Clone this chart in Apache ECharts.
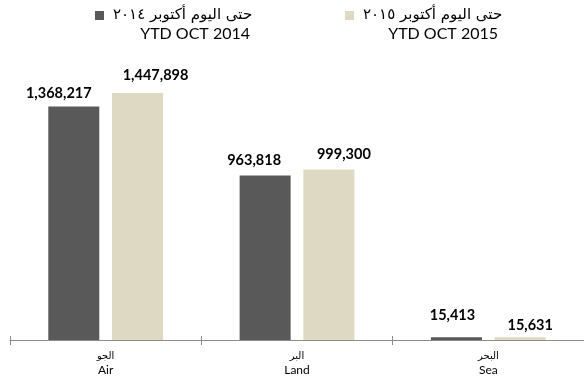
<!DOCTYPE html>
<html>
<head>
<meta charset="utf-8">
<script src="https://cdn.jsdelivr.net/npm/echarts@6/dist/echarts.min.js"></script>
<style>
  html, body { margin: 0; padding: 0; background: #fff; }
  #chart { width: 584px; height: 378px; }
</style>
</head>
<body>
<div id="chart"></div>
<script>
// Mode-of-arrival categories (Arabic / English)
const categoriesAr = ['الجو', 'البر', 'البحر'];
const categoriesEn = ['Air', 'Land', 'Sea'];

// Series names
const seriesAr = ['حتى اليوم أكتوبر ٢٠١٤', 'حتى اليوم أكتوبر ٢٠١٥'];
const seriesEn = ['YTD OCT 2014', 'YTD OCT 2015'];

// Year-to-date values
const ytd2014 = [1368217, 963818, 15413];
const ytd2015 = [1447898, 999300, 15631];

// Hand-placed nudges for the value labels [dx, dy]
const labelNudge2014 = [[-15, -6], [-11, -8], [-4, -15]];
const labelNudge2015 = [[18, -10], [15, -8], [10, -5]];

const LATIN = 'Lato, "DejaVu Sans", sans-serif';
const ARABIC = '"DejaVu Sans", sans-serif';
const COLORS = ['#595959', '#ddd9c3'];

function fmt(v) {
  return v.toString().replace(/\B(?=(\d{3})+(?!\d))/g, ',');
}

function barData(values, nudges) {
  return values.map((v, i) => ({
    value: v,
    label: { offset: nudges[i] }
  }));
}

const chart = echarts.init(document.getElementById('chart'), null, { renderer: 'canvas' });

const legendBase = {
  orient: 'horizontal',
  icon: 'rect',
  itemWidth: 9,
  itemHeight: 9,
  padding: 0,
  top: 8,
  textStyle: { fontFamily: ARABIC, fontSize: 15, color: '#000', padding: [0, 0, 0, 4] },
  selectedMode: false
};

const titleText = { fontFamily: LATIN, fontSize: 16, fontWeight: 'normal', color: '#000' };

chart.setOption({
  animation: false,
  backgroundColor: '#fff',
  title: [
    { text: seriesEn[0], right: 334, top: 26, padding: 0, textStyle: titleText },
    { text: seriesEn[1], right: 86, top: 26, padding: 0, textStyle: titleText }
  ],
  legend: [
    Object.assign({}, legendBase, { left: 95, data: [seriesAr[0]] }),
    Object.assign({}, legendBase, { left: 345, data: [seriesAr[1]] })
  ],
  grid: { left: 10, right: -3, top: 67, bottom: 38, containLabel: false },
  xAxis: [
    {
      type: 'category',
      data: categoriesEn,
      axisLine: { lineStyle: { color: '#8c8c8c', width: 1 } },
      axisTick: { show: true, length: 5, lineStyle: { color: '#8c8c8c' } },
      axisLabel: {
        margin: 10,
        formatter: (val, idx) => '{ar|' + categoriesAr[idx] + '}\n{en|' + val + '}',
        rich: {
          ar: { fontFamily: ARABIC, fontSize: 10, color: '#000', lineHeight: 13 },
          en: { fontFamily: LATIN, fontSize: 12, color: '#000', lineHeight: 14 }
        }
      }
    },
    {
      // upper half of the crossing tick marks
      type: 'category',
      data: categoriesEn,
      position: 'bottom',
      axisLine: { show: false },
      axisTick: { show: true, inside: true, length: 4, lineStyle: { color: '#8c8c8c' } },
      axisLabel: { show: false }
    }
  ],
  yAxis: {
    type: 'value',
    min: 0,
    max: 1600000,
    show: false,
    splitLine: { show: false }
  },
  series: [
    {
      name: seriesAr[0],
      type: 'bar',
      data: barData(ytd2014, labelNudge2014),
      barWidth: 51,
      barGap: '25%',
      itemStyle: { color: COLORS[0] },
      label: {
        show: true,
        position: 'top',
        distance: 0,
        formatter: p => fmt(p.value),
        fontFamily: LATIN,
        fontWeight: 'bold',
        fontSize: 14.5,
        color: '#000'
      }
    },
    {
      name: seriesAr[1],
      type: 'bar',
      data: barData(ytd2015, labelNudge2015),
      barWidth: 51,
      barGap: '25%',
      itemStyle: { color: COLORS[1] },
      label: {
        show: true,
        position: 'top',
        distance: 0,
        formatter: p => fmt(p.value),
        fontFamily: LATIN,
        fontWeight: 'bold',
        fontSize: 14.5,
        color: '#000'
      }
    }
  ]
});
</script>
</body>
</html>
